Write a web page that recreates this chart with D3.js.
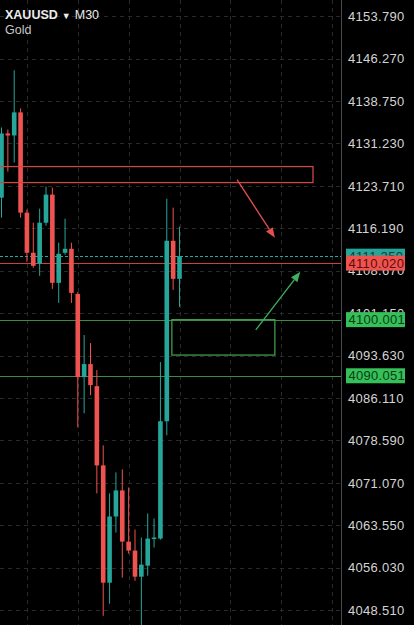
<!DOCTYPE html>
<html>
<head>
<meta charset="utf-8">
<script src="https://cdn.jsdelivr.net/npm/d3@7"></script>
<style>
    html, body { margin: 0; padding: 0; background: #000; }
    svg { display: block; }
    text { font-family: "Liberation Sans", Arial, sans-serif; }
</style>
</head>
<body>
<svg id="chart"></svg>
<script>
var width = 414, height = 625;
var plotRight = 341;

// XAUUSD M30 candles (oldest first)
var candleOpen  = [4121.62, 4133.00, 4132.64, 4136.73, 4118.96, 4111.85, 4109.89, 4117.18, 4122.16, 4106.52,
                   4111.85, 4112.56, 4104.56, 4089.81, 4092.12, 4088.21, 4074.17, 4053.38, 4065.11, 4069.73,
                   4060.66, 4059.07, 4054.44, 4056.40, 4061.20, 4061.20, 4081.99, 4113.98, 4107.23];
var candleHigh  = [4134.06, 4133.71, 4144.19, 4137.44, 4119.49, 4117.18, 4119.67, 4123.58, 4123.40, 4113.63,
                   4117.89, 4113.63, 4104.92, 4097.28, 4095.85, 4091.05, 4077.73, 4069.20, 4072.93, 4073.46,
                   4070.26, 4062.80, 4061.38, 4065.64, 4064.75, 4092.48, 4121.44, 4119.85, 4116.47];
var candleLow   = [4118.07, 4126.24, 4127.84, 4118.07, 4110.25, 4109.18, 4107.76, 4116.65, 4105.45, 4102.96,
                   4111.49, 4102.96, 4080.92, 4083.41, 4086.61, 4069.20, 4047.51, 4049.65, 4062.26, 4054.27,
                   4058.53, 4053.73, 4044.85, 4054.62, 4059.60, 4061.00, 4079.50, 4105.27, 4102.25];
var candleClose = [4133.00, 4132.64, 4136.73, 4118.96, 4111.85, 4109.54, 4117.18, 4122.16, 4106.52, 4111.67,
                   4112.56, 4104.74, 4089.81, 4092.12, 4088.39, 4074.17, 4053.38, 4065.11, 4069.73, 4060.66,
                   4059.07, 4054.44, 4056.58, 4061.20, 4061.38, 4081.99, 4113.98, 4107.23, 4111.25];

// price axis labels
var tickValues = [4153.79, 4146.27, 4138.75, 4131.23, 4123.71, 4116.19, 4108.67, 4101.15,
                  4093.63, 4086.11, 4078.59, 4071.07, 4063.55, 4056.03, 4048.51];

// vertical time grid (in candle index units)
var timeGrid = [4, 12, 20, 28, 36, 44, 52];

// horizontal levels: bid (dotted), user red line, two green lines
var levelNames  = ['bid', 'red', 'green1', 'green2'];
var levelPrices = [4111.25, 4110.02, 4100.001, 4090.051];

// drawn objects (index units / prices)
var redBoxIdx    = [-3, 49];
var redBoxPrice  = [4127.13, 4124.29];
var greenBoxIdx  = [26.8, 43.0];
var greenBoxPrice = [4100.0, 4093.72];
var redArrowIdx    = [37.05, 43.0];
var redArrowPrice  = [4124.82, 4114.51];
var greenArrowIdx   = [40.0, 47.0];
var greenArrowPrice = [4098.17, 4108.47];

var upColor = '#26a69a', downColor = '#ef5350';

var svg = d3.select('#chart')
    .attr('width', width)
    .attr('height', height)
    .style('background', '#000');

var y = d3.scaleLinear().domain([4045.88, 4156.65]).range([height, 0]);
var x = d3.scaleLinear().domain([0, 28]).range([1.5, 179.5]);

svg.append('clipPath').attr('id', 'plotClip')
    .append('rect').attr('x', 0).attr('y', 0).attr('width', plotRight).attr('height', height);

var plot = svg.append('g').attr('clip-path', 'url(#plotClip)');

// grid
plot.append('g').selectAll('line')
    .data(tickValues)
    .enter().append('line')
    .attr('x1', 0).attr('x2', plotRight)
    .attr('y1', function (d) { return Math.round(y(d)) + 0.5; })
    .attr('y2', function (d) { return Math.round(y(d)) + 0.5; })
    .attr('stroke', '#2a2a2a')
    .attr('stroke-dasharray', '4,4');

plot.append('g').selectAll('line')
    .data(timeGrid)
    .enter().append('line')
    .attr('x1', function (d) { return Math.round(x(d)) + 0.5; })
    .attr('x2', function (d) { return Math.round(x(d)) + 0.5; })
    .attr('y1', 0).attr('y2', height)
    .attr('stroke', '#2a2a2a')
    .attr('stroke-dasharray', '4,4');

// level lines
function levelStroke(name) {
    if (name == 'bid') return '#2fa79b';
    if (name == 'red') return '#c8423f';
    return '#3c8c48';
}
plot.append('g').selectAll('line')
    .data(levelPrices)
    .enter().append('line')
    .attr('x1', 0).attr('x2', plotRight)
    .attr('y1', function (d) { return Math.round(y(d)) + 0.5; })
    .attr('y2', function (d) { return Math.round(y(d)) + 0.5; })
    .attr('stroke', function (d, i) { return levelStroke(levelNames[i]); })
    .attr('stroke-width', 1.2)
    .attr('stroke-dasharray', function (d, i) { return levelNames[i] == 'bid' ? '3,2' : null; });

// candles
var candles = d3.range(candleOpen.length);
var bodyW = 4.6;

plot.append('g').selectAll('line')
    .data(candles)
    .enter().append('line')
    .attr('x1', function (i) { return x(i); })
    .attr('x2', function (i) { return x(i); })
    .attr('y1', function (i) { return y(candleHigh[i]); })
    .attr('y2', function (i) { return y(candleLow[i]); })
    .attr('stroke', function (i) { return candleClose[i] >= candleOpen[i] ? upColor : downColor; })
    .attr('stroke-width', 1);

plot.append('g').selectAll('rect')
    .data(candles)
    .enter().append('rect')
    .attr('x', function (i) { return x(i) - bodyW / 2; })
    .attr('width', bodyW)
    .attr('y', function (i) { return y(Math.max(candleOpen[i], candleClose[i])); })
    .attr('height', function (i) { return Math.max(1.5, Math.abs(y(candleOpen[i]) - y(candleClose[i]))); })
    .attr('fill', function (i) { return candleClose[i] >= candleOpen[i] ? upColor : downColor; });

// drawn rectangles
plot.append('rect')
    .attr('x', x(redBoxIdx[0])).attr('width', x(redBoxIdx[1]) - x(redBoxIdx[0]))
    .attr('y', y(redBoxPrice[0])).attr('height', y(redBoxPrice[1]) - y(redBoxPrice[0]))
    .attr('fill', 'none').attr('stroke', '#c94b48').attr('stroke-width', 1.3);

plot.append('rect')
    .attr('x', x(greenBoxIdx[0])).attr('width', x(greenBoxIdx[1]) - x(greenBoxIdx[0]))
    .attr('y', y(greenBoxPrice[0])).attr('height', y(greenBoxPrice[1]) - y(greenBoxPrice[0]))
    .attr('fill', 'none').attr('stroke', '#3e9a4d').attr('stroke-width', 1.3);

// arrows
function drawArrow(idx, price, color) {
    var x1 = x(idx[0]), y1 = y(price[0]), x2 = x(idx[1]), y2 = y(price[1]);
    var a = Math.atan2(y2 - y1, x2 - x1);
    var len = 10, half = 4;
    var bx = x2 - len * Math.cos(a), by = y2 - len * Math.sin(a);
    plot.append('line')
        .attr('x1', x1).attr('y1', y1).attr('x2', bx).attr('y2', by)
        .attr('stroke', color).attr('stroke-width', 1.3);
    var pts = [
        [x2, y2],
        [bx + half * Math.sin(a), by - half * Math.cos(a)],
        [bx - half * Math.sin(a), by + half * Math.cos(a)]
    ];
    plot.append('polygon')
        .attr('points', pts.map(function (p) { return p.join(','); }).join(' '))
        .attr('fill', color);
}
drawArrow(redArrowIdx, redArrowPrice, '#e0504d');
drawArrow(greenArrowIdx, greenArrowPrice, '#40b060');

// price axis
svg.append('line')
    .attr('x1', plotRight + 0.5).attr('x2', plotRight + 0.5)
    .attr('y1', 0).attr('y2', height)
    .attr('stroke', '#4a4a4a');

svg.append('g').selectAll('text')
    .data(tickValues)
    .enter().append('text')
    .attr('x', 348)
    .attr('y', function (d) { return y(d); })
    .attr('dy', '0.36em')
    .attr('fill', '#d4d4d4')
    .attr('font-size', 13)
    .attr('letter-spacing', '0.3px')
    .text(function (d) { return d.toFixed(3); });

// price tags
function tagFill(name) {
    if (name == 'bid') return '#26a69a';
    if (name == 'red') return '#ef5350';
    return '#35c05a';
}
function tagText(name) {
    if (name == 'bid') return '#0c3d38';
    if (name == 'red') return '#5e0c0a';
    return '#0b3d14';
}
var tags = svg.append('g').selectAll('g')
    .data(levelPrices)
    .enter().append('g')
    .attr('transform', function (d) { return 'translate(346,' + y(d) + ')'; });

tags.append('rect')
    .attr('x', 0).attr('y', -7.5)
    .attr('width', 59).attr('height', 15)
    .attr('fill', function (d, i) { return tagFill(levelNames[i]); });

tags.append('text')
    .attr('x', 2.5).attr('y', 0).attr('dy', '0.36em')
    .attr('fill', function (d, i) { return tagText(levelNames[i]); })
    .attr('font-size', 13)
    .attr('letter-spacing', '0.3px')
    .text(function (d) { return d.toFixed(3); });

// symbol header
var head = svg.append('text')
    .attr('x', 5).attr('y', 19)
    .attr('fill', '#ececec')
    .attr('font-size', 12.5);
head.append('tspan').attr('font-weight', 'bold').text('XAUUSD');
head.append('tspan').attr('font-size', 9).attr('dx', 4).text('▼');
head.append('tspan').attr('dx', 4).text('M30');

svg.append('text')
    .attr('x', 5).attr('y', 34)
    .attr('fill', '#c8c8c8')
    .attr('font-size', 12.5)
    .text('Gold');
</script>
</body>
</html>
